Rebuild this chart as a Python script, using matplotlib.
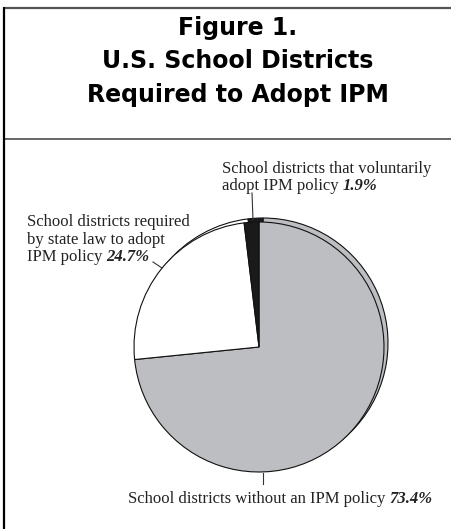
import matplotlib
matplotlib.use("Agg")
import matplotlib.pyplot as plt

W, H = 452, 529

# Slice data (clockwise from 12 o'clock)
shares = [73.4, 24.7, 1.9]
slice_colors = ["#bdbec1", "#ffffff", "#1a1a1a"]
label_texts = [
    ["School districts without an IPM policy "],
    ["School districts required", "by state law to adopt", "IPM policy "],
    ["School districts that voluntarily", "adopt IPM policy "],
]
title_lines = ["Figure 1.", "U.S. School Districts", "Required to Adopt IPM"]

SERIF = "Liberation Serif"


def Y(y):
    return H - y


fig = plt.figure(figsize=(W / 100, H / 100), dpi=100)
ax = fig.add_axes([0, 0, 1, 1])

# back copy of the pie gives the thin "depth" rim
ax.pie(shares, colors=slice_colors, startangle=90, counterclock=False,
       center=(263, Y(343)), radius=125, frame=True,
       wedgeprops=dict(edgecolor="#111111", linewidth=0.8))
ax.pie(shares, colors=slice_colors, startangle=90, counterclock=False,
       center=(259, Y(347)), radius=125, frame=True,
       wedgeprops=dict(edgecolor="#111111", linewidth=0.8))

ax.set_xlim(0, W)
ax.set_ylim(0, H)
ax.axis("off")

# frame lines
ax.plot([4, W], [Y(7.5), Y(7.5)], color="#555555", lw=1.6, solid_capstyle="butt")
ax.plot([4, W], [Y(138.5), Y(138.5)], color="#666666", lw=1.4, solid_capstyle="butt")
ax.plot([4.5, 4.5], [Y(7), 0], color="black", lw=1.6, solid_capstyle="butt")

# title
for i, line in enumerate(title_lines):
    ax.text(238, Y(35 + i * 33.5), line, ha="center", va="baseline",
            fontsize=17, fontweight="heavy", family="DejaVu Sans")

# leader lines
ax.plot([263, 263], [Y(473), Y(484)], color="#333333", lw=0.8)
ax.plot([153, 162], [Y(262), Y(268)], color="#333333", lw=0.8)
ax.plot([252, 253], [Y(193), Y(220)], color="#333333", lw=0.8)

pcts = [f"{v}%" for v in shares]
label_pos = [(128, [503]), (27, [226, 243.5, 261]), (222, [173, 189.5])]

fig.canvas.draw()
renderer = fig.canvas.get_renderer()
inv = ax.transData.inverted()
for lines, (x0, ys), pct in zip(label_texts, label_pos, pcts):
    last = None
    for line, y in zip(lines, ys):
        last = ax.text(x0, Y(y), line, ha="left", va="baseline",
                       fontsize=12, family=SERIF, color="#222222")
    bb = last.get_window_extent(renderer)
    xr = inv.transform((bb.x1, bb.y0))[0]
    ax.text(xr, Y(ys[-1]), pct, ha="left", va="baseline", fontsize=12,
            family=SERIF, fontweight="bold", fontstyle="italic", color="#222222")

fig.savefig("out.png", dpi=100)
